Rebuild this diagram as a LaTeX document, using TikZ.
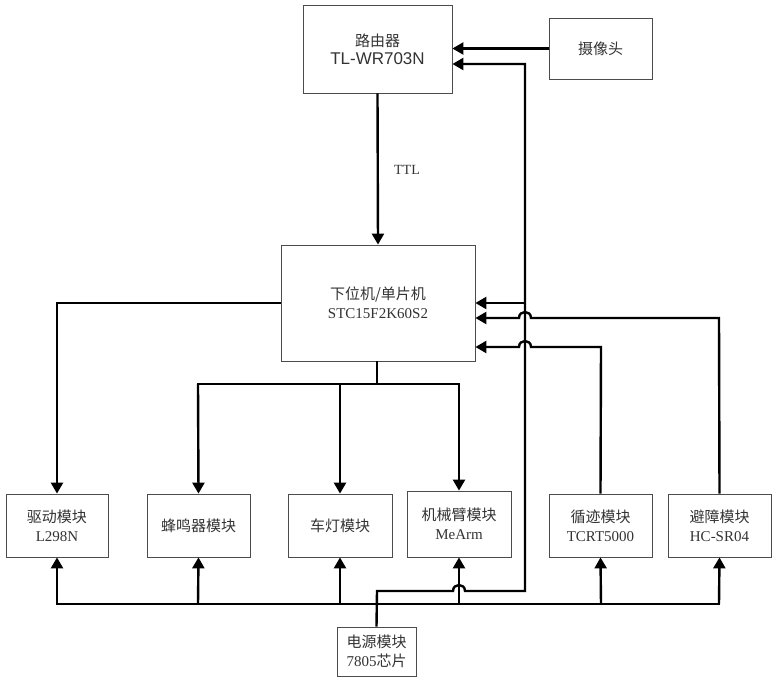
\documentclass[tikz,border=0pt]{standalone}
\usepackage{fontspec}
\setmainfont{Liberation Serif}
\newfontfamily\cjk{Noto Sans CJK SC}
\newfontfamily\sans{Liberation Sans}
\usetikzlibrary{arrows.meta,calc}
\begin{document}
\begin{tikzpicture}[x=1pt,y=-1pt,
  box/.style={draw=black!70,line width=0.8pt,inner sep=0pt,align=center,font=\fontsize{15}{19}\selectfont,text=black!80},
  wire/.style={line width=2.4pt,line join=miter},
  arr/.style={wire,-{Triangle[length=11pt,width=12pt]}}]
\useasboundingbox (0,0) rectangle (777,680);
\node[box,minimum width=149,minimum height=88] (router) at (377.5,49) {{\cjk 路由器}\\[-1pt]{\sans\fontsize{17}{20}\selectfont TL-WR703N}};
\node[box,minimum width=103,minimum height=61] (cam) at (600.5,48.5) {\cjk 摄像头};
\node[box,minimum width=194,minimum height=116] (mcu) at (378,303) {{\cjk 下位机/单片机}\\STC15F2K60S2};
\node[box,minimum width=102,minimum height=63] (drv) at (57,525.5) {{\cjk 驱动模块}\\L298N};
\node[box,minimum width=103,minimum height=63] (buz) at (198.5,525.5) {\cjk 蜂鸣器模块};
\node[box,minimum width=104,minimum height=63] (lamp) at (340,525.5) {\cjk 车灯模块};
\node[box,minimum width=104,minimum height=66] (arm) at (459,524) {{\cjk 机械臂模块}\\MeArm};
\node[box,minimum width=103,minimum height=63] (trk) at (600.5,525.5) {{\cjk 循迹模块}\\TCRT5000};
\node[box,minimum width=103,minimum height=63] (obs) at (719.5,525.5) {{\cjk 避障模块}\\HC-SR04};
\node[box,minimum width=79,minimum height=49] (pwr) at (376.5,651.5) {{\cjk 电源模块}\\7805{\cjk 芯片}};
\node[font=\fontsize{14}{16}\selectfont,text=black!80] (ttl) at (407,170) {TTL};
% router -> mcu
\draw[arr] (router.south) -- (mcu.north);
% camera -> router
\draw[arr] (cam.west) -- (router.east |- cam.west);
% mcu -> drive
\draw[arr] (mcu.west) -- (57,303) -- (drv.north);
% mcu -> buz, lamp, arm
\coordinate (split) at (377,384);
\draw[wire] (mcu.south -| split) -- (split);
\draw[arr] (198,384) -- (buz.north);
\draw[arr] (340,384) -- (lamp.north);
\draw[arr] (459,384) -- (arm.north);
\draw[wire] (196.8,384) -- (460.2,384);
% trk -> mcu, obs -> mcu
\draw[arr] (trk.north) -- (601,347) -- (531,347) .. controls (531,339) and (519,339) .. (519,347) -- (mcu.east |- 0,347);
\draw[arr] (obs.north) -- (719,318) -- (531,318) .. controls (531,310) and (519,310) .. (519,318) -- (mcu.east |- 0,318);
% power
\draw[wire] (56,604) -- (720.2,604);
\draw[arr] (57,604) -- (drv.south);
\draw[arr] (198,604) -- (buz.south);
\draw[arr] (340,604) -- (lamp.south);
\draw[arr] (459,604) -- (arm.south);
\draw[arr] (601,604) -- (trk.south);
\draw[arr] (719,604) -- (obs.south);
\draw[arr] (pwr.north) -- (377,591) -- (453,591) .. controls (453,583) and (465,583) .. (465,591) -- (525,591) -- (525,64) -- (router.east |- 0,64);
\draw[arr] (525,303) -- (mcu.east |- 0,303);
\end{tikzpicture}
\end{document}
